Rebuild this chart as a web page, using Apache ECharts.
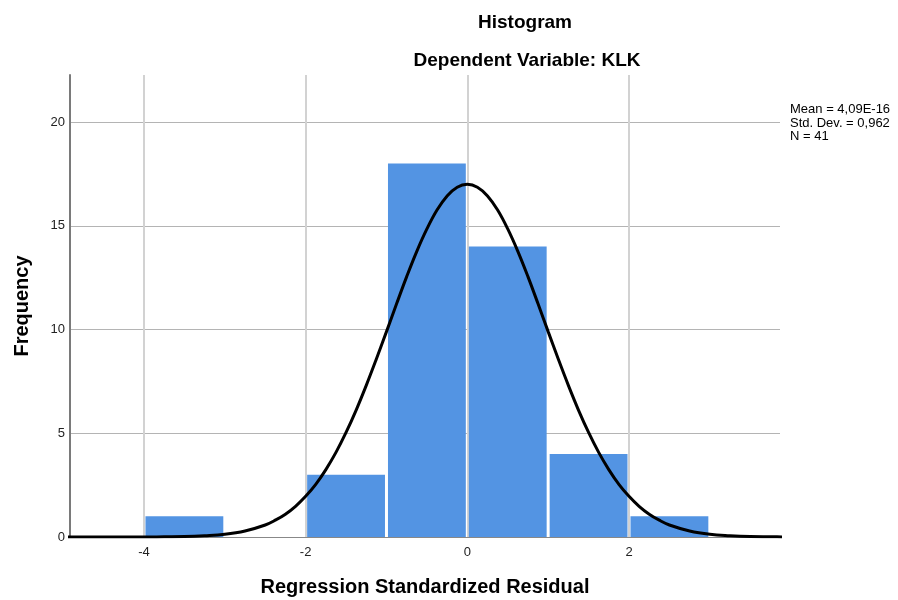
<!DOCTYPE html>
<html>
<head>
<meta charset="utf-8">
<script src="https://cdn.jsdelivr.net/npm/echarts@6/dist/echarts.min.js"></script>
<style>
  html, body { margin: 0; padding: 0; background: #fff; }
  #main { width: 898px; height: 600px; }
</style>
</head>
<body>
<div id="main"></div>
<script>
  // histogram bins (regression standardized residual)
  var binStarts = [-4, -2, -1, 0, 1, 2];
  var binEnds = [-3, -1, 0, 1, 2, 3];
  var frequencies = [1, 3, 18, 14, 4, 1];

  // normal curve
  var curveX = [-5, -4.75, -4.5, -4.25, -4, -3.75, -3.5, -3.25, -3, -2.75, -2.5, -2.375, -2.25, -2.125, -2, -1.875, -1.75, -1.625,
    -1.5, -1.375, -1.25, -1.125, -1, -0.875, -0.75, -0.625, -0.5, -0.375, -0.25, -0.125,
    0, 0.125, 0.25, 0.375, 0.5, 0.625, 0.75, 0.875, 1, 1.125, 1.25, 1.375, 1.5, 1.625, 1.75, 1.875,
    2, 2.125, 2.25, 2.375, 2.5, 2.75, 3, 3.25, 3.5, 3.75, 4];
  var curveY = [0, 0, 0, 0, 0, 0.01, 0.02, 0.06, 0.13, 0.29, 0.58, 0.81, 1.10, 1.48, 1.96, 2.54, 3.25, 4.08,
    5.04, 6.12, 7.31, 8.58, 9.90, 11.24, 12.55, 13.77, 14.85, 15.76, 16.44, 16.86,
    17.00, 16.86, 16.44, 15.76, 14.85, 13.77, 12.55, 11.24, 9.90, 8.58, 7.31, 6.12, 5.04, 4.08, 3.25, 2.54,
    1.96, 1.48, 1.10, 0.81, 0.58, 0.29, 0.13, 0.06, 0.02, 0.01, 0];

  var xTicks = [-4, -2, 0, 2];
  var yTicks = [0, 5, 10, 15, 20];

  var statsLines = ['Mean = 4,09E-16', 'Std. Dev. = 0,962', 'N = 41'];

  var font = 'Liberation Sans, Arial, sans-serif';

  var myChart = echarts.init(document.getElementById('main'));

  var barData = binStarts.map(function (s, i) {
    return [s, binEnds[i], frequencies[i]];
  });
  var curveData = curveX.map(function (x, i) {
    return [x, curveY[i]];
  });

  myChart.setOption({
    animation: false,
    title: [
      {
        text: 'Histogram',
        left: 520, top: 8, textAlign: 'center',
        textStyle: { fontFamily: font, fontSize: 19, fontWeight: 'bold', color: '#000' }
      },
      {
        text: 'Dependent Variable: KLK',
        left: 522, top: 46, textAlign: 'center',
        textStyle: { fontFamily: font, fontSize: 19, fontWeight: 'bold', color: '#000' }
      }
    ],
    graphic: [{
      type: 'text',
      left: 790, top: 103,
      style: {
        text: statsLines.join('\n'),
        font: '13px ' + font,
        fill: '#000',
        lineHeight: 13.5
      }
    }],
    grid: { left: 70, right: 118, top: 75, bottom: 63, outerBoundsMode: 'none' },
    xAxis: {
      type: 'value',
      min: -4.915,
      max: 3.868,
      name: 'Regression Standardized Residual',
      nameLocation: 'middle',
      nameGap: 40,
      nameTextStyle: { fontFamily: font, fontSize: 20, fontWeight: 'bold', color: '#000' },
      axisLine: { show: true, onZero: false, lineStyle: { color: '#888', width: 1 } },
      axisTick: { show: false, customValues: xTicks },
      axisLabel: { customValues: xTicks, fontFamily: font, fontSize: 13, color: '#222', margin: 9 },
      splitLine: { show: true, lineStyle: { color: '#d2d2d2', width: 2 } }
    },
    yAxis: {
      type: 'value',
      min: 0,
      max: 22.27,
      name: 'Frequency',
      nameLocation: 'middle',
      nameGap: 38,
      nameTextStyle: { fontFamily: font, fontSize: 20, fontWeight: 'bold', color: '#000' },
      axisLine: { show: true, onZero: false, lineStyle: { color: '#7a7a7a', width: 2 } },
      axisTick: { show: false, customValues: yTicks },
      axisLabel: { customValues: yTicks, fontFamily: font, fontSize: 13, color: '#222', margin: 5 },
      splitLine: { show: true, lineStyle: { color: '#b4b4b4', width: 1 } }
    },
    series: [
      {
        type: 'custom',
        data: barData,
        encode: { x: [0, 1], y: 2 },
        renderItem: function (params, api) {
          var topLeft = api.coord([api.value(0), api.value(2)]);
          var bottomRight = api.coord([api.value(1), 0]);
          return {
            type: 'rect',
            shape: {
              x: topLeft[0] + 1.5,
              y: topLeft[1],
              width: bottomRight[0] - topLeft[0] - 3,
              height: bottomRight[1] - topLeft[1]
            },
            style: { fill: '#5394e3' }
          };
        },
        z: 2
      },
      {
        type: 'line',
        data: curveData,
        smooth: 0.4,
        showSymbol: false,
        lineStyle: { color: '#000', width: 3 },
        z: 3
      }
    ]
  });
</script>
</body>
</html>
